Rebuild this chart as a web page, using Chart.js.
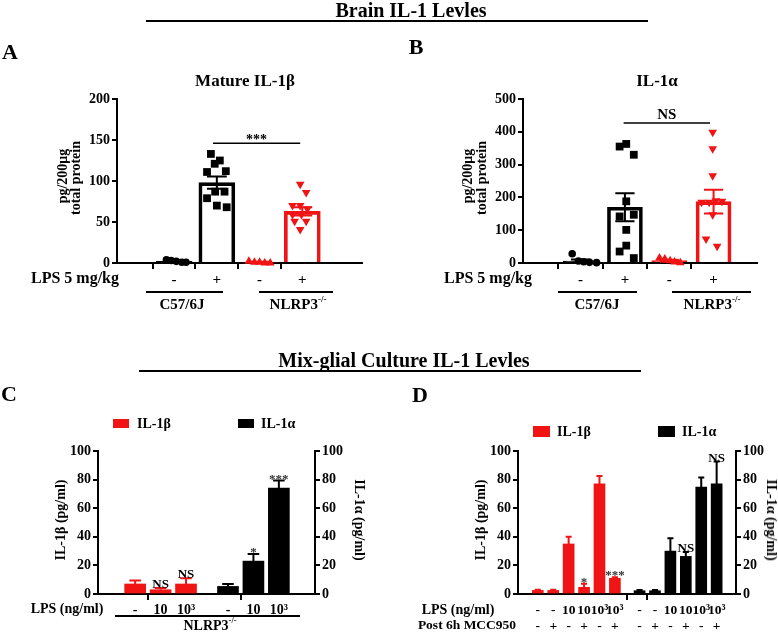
<!DOCTYPE html>
<html>
<head>
<meta charset="utf-8">
<script src="https://cdn.jsdelivr.net/npm/chart.js@4.4.1/dist/chart.umd.min.js"></script>
<style>
  body { margin: 0; background: #fff; width: 778px; height: 633px; position: relative; overflow: hidden;
         font-family: "Liberation Serif", "Times New Roman", serif; font-weight: bold; color: #000; }
  canvas { position: absolute; left: 0; top: 0; }
  .t { position: absolute; white-space: nowrap; line-height: 1; transform: translate(-50%, -50%); }
  .l { position: absolute; white-space: nowrap; line-height: 1; transform: translateY(-50%); }
  .r { position: absolute; white-space: nowrap; line-height: 1; transform: translate(-50%, -50%) rotate(-90deg); }
  .r2 { position: absolute; white-space: nowrap; line-height: 1; transform: translate(-50%, -50%) rotate(90deg); }
  .hl { position: absolute; background: #000; }
  .sq { position: absolute; }
  sup { font-size: 0.6em; vertical-align: top; position: relative; top: -0.25em; }
</style>
</head>
<body>
<canvas id="cA" width="778" height="633"></canvas>
<canvas id="cB" width="778" height="633"></canvas>
<canvas id="cC" width="778" height="633"></canvas>
<canvas id="cD" width="778" height="633"></canvas>

<!-- top section -->
<div class="t" style="left:411px;top:10px;font-size:20px">Brain IL-1 Levles</div>
<div class="hl" style="left:146px;top:20px;width:502px;height:2px"></div>
<div class="t" style="left:10px;top:52px;font-size:22px">A</div>
<div class="t" style="left:416px;top:47px;font-size:22px">B</div>
<div class="t" style="left:245px;top:80px;font-size:17px">Mature IL-1β</div>
<div class="t" style="left:657px;top:80px;font-size:17px">IL-1α</div>
<div class="r" style="left:63px;top:176px;font-size:14px">pg/200μg</div>
<div class="r" style="left:76px;top:178px;font-size:14px">total protein</div>
<div class="r" style="left:468px;top:176px;font-size:14px">pg/200μg</div>
<div class="r" style="left:482px;top:178px;font-size:14px">total protein</div>
<div class="t" style="left:75px;top:278px;font-size:16px">LPS 5 mg/kg</div>
<div class="t" style="left:488px;top:278px;font-size:16px">LPS 5 mg/kg</div>
<div class="hl" style="left:146px;top:291px;width:77px;height:1.5px"></div>
<div class="hl" style="left:259px;top:291px;width:74px;height:1.5px"></div>
<div class="hl" style="left:558px;top:291px;width:79px;height:1.5px"></div>
<div class="hl" style="left:672px;top:291px;width:79px;height:1.5px"></div>
<div class="t" style="left:182px;top:304px;font-size:15px">C57/6J</div>
<div class="t" style="left:298px;top:304px;font-size:15px">NLRP3<sup>-/-</sup></div>
<div class="t" style="left:597px;top:304px;font-size:15px">C57/6J</div>
<div class="t" style="left:712px;top:304px;font-size:15px">NLRP3<sup>-/-</sup></div>

<!-- bottom section -->
<div class="t" style="left:404px;top:360px;font-size:20px">Mix-glial Culture IL-1 Levles</div>
<div class="hl" style="left:139px;top:370px;width:502px;height:2px"></div>
<div class="t" style="left:9px;top:394px;font-size:22px">C</div>
<div class="t" style="left:420px;top:395px;font-size:22px">D</div>

<div class="sq" style="left:113px;top:419px;width:16px;height:9px;background:#f01414"></div>
<div class="l" style="left:137px;top:424px;font-size:14px">IL-1β</div>
<div class="sq" style="left:238px;top:419px;width:16px;height:9px;background:#000"></div>
<div class="l" style="left:261px;top:424px;font-size:14px">IL-1α</div>
<div class="sq" style="left:533px;top:426px;width:17px;height:11px;background:#f01414"></div>
<div class="l" style="left:557px;top:432px;font-size:14px">IL-1β</div>
<div class="sq" style="left:658px;top:426px;width:17px;height:11px;background:#000"></div>
<div class="l" style="left:682px;top:432px;font-size:14px">IL-1α</div>

<div class="r" style="left:61px;top:520px;font-size:14px">IL-1β (pg/ml)</div>
<div class="r2" style="left:359px;top:520px;font-size:14px">IL-1α (pg/ml)</div>
<div class="r" style="left:481px;top:520px;font-size:14px">IL-1β (pg/ml)</div>
<div class="r2" style="left:771px;top:520px;font-size:14px">IL-1α (pg/ml)</div>
<div class="t" style="left:67px;top:609px;font-size:14px">LPS (ng/ml)</div>
<div class="hl" style="left:115px;top:615px;width:185px;height:1.5px"></div>
<div class="t" style="left:210px;top:626px;font-size:14px">NLRP3<sup>-/-</sup></div>
<div class="t" style="left:458px;top:610px;font-size:14px">LPS (ng/ml)</div>
<div class="t" style="left:467px;top:625px;font-size:13.5px">Post 6h MCC950</div>

<script>
// ---- data ----
const lpsAB = ['-', '+', '-', '+'];

// A: mature IL-1β, pg/200µg total protein (C57 -, C57 +, NLRP3 -, NLRP3 +)
const aMean = [2, 98, 1, 63];
const aSem = [0.6, 7.5, 0.4, 5];
const aPts = [
  [4, 3, 2, 1, 1],
  [133, 125, 121, 111, 112, 79, 87, 87, 70, 68],
  [2, 1, 1, 0, 0],
  [96, 86, 70, 70, 66, 59, 59, 51, 51, 41]
];

// B: IL-1α, pg/200µg total protein
const bMean = [6, 170, 7, 187];
const bSem = [5, 43, 3, 36];
const bPts = [
  [28, 6, 4, 2, 1],
  [355, 363, 330, 188, 142, 147, 101, 53, 35, 15],
  [15, 12, 7, 3, 1],
  [399, 348, 266, 185, 185, 190, 188, 147, 73, 51]
];

// C: mixed glial culture, NLRP3-/-
const cLps = ['-', '10', '10³', '-', '10', '10³'];
const cBeta = [7, 3, 7];
const cBetaErr = [2.5, 1.2, 4];
const cBetaSig = ['', 'NS', 'NS'];
const cAlpha = [5.3, 23, 74];
const cAlphaErr = [1.7, 5, 5.3];
const cAlphaSig = ['', '*', '***'];

// D: post 6h MCC950
const dLps = ['-', '-', '10', '10', '10³', '10³'];
const dMcc = ['-', '+', '-', '+', '-', '+'];
const dBeta = [2.5, 2.5, 35, 4.7, 77, 11];
const dBetaErr = [0.5, 0.5, 5, 2.5, 5.5, 0.8];
const dBetaSig = ['', '', '', '*', '', '***'];
const dAlpha = [2.3, 2.3, 30, 26.3, 74.7, 77];
const dAlphaErr = [0.5, 0.5, 9, 3, 6.7, 15.6];
const dAlphaSig = ['', '', '', 'NS', '', 'NS'];

// ---- drawing ----
const F = '"Liberation Serif", "Times New Roman", serif';
const RED = '#f01414';

// horizontal spread of the dots inside each group (category units)
const jitA = [
  [-0.18, -0.07, 0.05, 0.18, 0.28],
  [-0.14, 0.07, -0.05, -0.23, 0.21, -0.23, -0.04, 0.18, 0, 0.23],
  [-0.25, -0.12, 0, 0.12, 0.25],
  [-0.05, 0.09, -0.23, -0.05, 0.12, -0.23, -0.02, -0.18, 0.09, -0.05]
];
const jitB = [
  [-0.19, -0.05, 0.07, 0.2, 0.36],
  [-0.12, 0.03, 0.2, 0.03, -0.12, 0.2, 0.03, 0.03, -0.12, 0.2],
  [-0.22, -0.1, 0.02, 0.12, 0.25],
  [-0.02, -0.02, -0.02, -0.27, -0.1, 0.05, 0.19, -0.02, -0.17, 0.08]
];

function fix(size, horiz) {
  return s => {
    if (horiz) s.height = size; else s.width = size;
    s.paddingTop = s.paddingBottom = s.paddingLeft = s.paddingRight = 0;
  };
}

function yAxis(max, step, pos, w) {
  return {
    type: 'linear', position: pos, min: 0, max: max,
    afterFit: fix(w, false),
    border: { display: true, color: '#000', width: 2 },
    grid: { drawOnChartArea: false, drawTicks: true, tickLength: 5, lineWidth: 2, color: '#000' },
    ticks: { stepSize: step, padding: 2, color: '#000', font: { family: F, size: 14, weight: 'bold' } }
  };
}

function xAxis(min, max, pos, labels, marks, size, pad) {
  const col = c => (c.tick && marks.includes(c.tick.value)) ? '#000' : 'rgba(0,0,0,0)';
  return {
    type: 'linear', min: min, max: max,
    afterFit: fix(40, true),
    afterBuildTicks: s => { s.ticks = pos.map(v => ({ value: v })); },
    border: { display: true, color: '#000', width: 2 },
    grid: { drawOnChartArea: false, drawTicks: true, tickLength: 6, lineWidth: 2, color: col, tickColor: col },
    ticks: { autoSkip: false, maxRotation: 0, padding: pad, color: '#000',
             font: { family: F, size: size, weight: 'bold' }, lineHeight: 1.15,
             callback: (v, i) => labels[i] }
  };
}

// error whiskers, significance text and the comparison line
const marks = {
  id: 'marks',
  afterDatasetsDraw(chart, args, opts) {
    const ctx = chart.ctx;
    ctx.save();
    chart.data.datasets.forEach((ds, i) => {
      if (!ds.err) return;
      const meta = chart.getDatasetMeta(i);
      const ys = chart.scales[meta.yAxisID];
      meta.data.forEach((bar, j) => {
        const v = ds.data[j].y, e = ds.err[j];
        const top = ys.getPixelForValue(v + e);
        const bot = ys.getPixelForValue(ds.both ? v - e : v);
        const hw = ds.capW / 2;
        ctx.strokeStyle = Array.isArray(ds.errColor) ? ds.errColor[j] : ds.errColor;
        ctx.lineWidth = 2;
        ctx.beginPath();
        ctx.moveTo(bar.x, top); ctx.lineTo(bar.x, bot);
        ctx.moveTo(bar.x - hw, top); ctx.lineTo(bar.x + hw, top);
        if (ds.both) { ctx.moveTo(bar.x - hw, bot); ctx.lineTo(bar.x + hw, bot); }
        ctx.stroke();
        const s = ds.sig && ds.sig[j];
        if (s) {
          ctx.fillStyle = s === 'NS' ? '#000' : '#333';
          ctx.font = 'bold 13px ' + F;
          ctx.textAlign = 'center';
          ctx.textBaseline = 'alphabetic';
          ctx.fillText(s, bar.x, top + (s === 'NS' ? 0 : 2));
        }
      });
    });
    if (opts.line) {
      const L = opts.line;
      const xs = chart.scales.x, ys = chart.scales.y;
      const py = ys.getPixelForValue(L.y);
      const x1 = xs.getPixelForValue(L.x1), x2 = xs.getPixelForValue(L.x2);
      ctx.strokeStyle = '#000';
      ctx.lineWidth = 1.5;
      ctx.beginPath(); ctx.moveTo(x1, py); ctx.lineTo(x2, py); ctx.stroke();
      ctx.fillStyle = '#000';
      ctx.font = 'bold ' + L.size + 'px ' + F;
      ctx.textAlign = 'center';
      ctx.textBaseline = 'alphabetic';
      ctx.fillText(L.text, (x1 + x2) / 2, py + L.dy);
    }
    ctx.restore();
  }
};

function pad(L, R, T, B, yW, y2W) {
  return { left: L - yW, right: 778 - R - y2W, top: T, bottom: 633 - B - 40 };
}

// A and B: bars with dot plots
function dotPanel(id, mean, sem, pts, jit, box, xr, max, step, line, barW) {
  const colors = ['#000', '#000', RED, RED];
  const styles = ['circle', 'rect', 'triangle', 'triangle'];
  const radius = [3.8, 5.5, 5, 5];
  const rot = [0, 0, 0, 180];
  const scat = pts.map((g, k) => ({
    type: 'scatter',
    data: g.map((v, n) => ({ x: k + jit[k][n], y: v })),
    pointStyle: styles[k], pointRadius: radius[k], pointRotation: rot[k],
    backgroundColor: colors[k], borderColor: colors[k], borderWidth: 0,
    clip: false, order: 0
  }));
  new Chart(document.getElementById(id), {
    type: 'bar',
    data: {
      datasets: [{
        type: 'bar',
        data: mean.map((v, k) => ({ x: k, y: v })),
        backgroundColor: 'rgba(255,255,255,0)', borderColor: colors, borderWidth: 3,
        barThickness: barW, grouped: false, order: 1,
        err: sem, both: true, errColor: colors, capW: barW * 0.55
      }, ...scat]
    },
    options: {
      responsive: false, animation: false, events: [],
      layout: { padding: pad(box[0], box[1], box[2], box[3], 50, 0) },
      plugins: { legend: { display: false }, tooltip: { enabled: false }, marks: { line: line } },
      scales: {
        x: xAxis(xr[0], xr[1], [0, 1, 2, 3], lpsAB, [0, 1, 2, 3], 15, 2),
        y: yAxis(max, step, 'left', 50)
      }
    },
    plugins: [marks]
  });
}

dotPanel('cA', aMean, aSem, aPts, jitA, [117, 362, 99, 263], [-0.62, 3.68], 200, 50,
  { x1: 0.91, x2: 2.95, y: 146, text: '***', size: 14, dy: 1 }, 36);
dotPanel('cB', bMean, bSem, bPts, jitB, [523, 757, 99, 263], [-0.64, 3.32], 500, 100,
  { x1: 0.97, x2: 2.92, y: 427, text: 'NS', size: 15, dy: -4 }, 35);

// C and D: twin-axis bar charts
function twinPanel(id, box, xr, posB, posA, beta, betaErr, betaSig, alpha, alphaErr, alphaSig,
                   tickPos, tickLabels, tickMarks, size, tpad, barW) {
  new Chart(document.getElementById(id), {
    type: 'bar',
    data: {
      datasets: [{
        data: beta.map((v, k) => ({ x: posB[k], y: v })), yAxisID: 'y',
        backgroundColor: RED, barThickness: barW, grouped: false,
        err: betaErr, sig: betaSig, errColor: RED, capW: barW * 0.55
      }, {
        data: alpha.map((v, k) => ({ x: posA[k], y: v })), yAxisID: 'y2',
        backgroundColor: '#000', barThickness: barW, grouped: false,
        err: alphaErr, sig: alphaSig, errColor: '#000', capW: barW * 0.55
      }]
    },
    options: {
      responsive: false, animation: false, events: [],
      layout: { padding: pad(box[0], box[1], box[2], box[3], 40, 40) },
      plugins: { legend: { display: false }, tooltip: { enabled: false }, marks: {} },
      scales: {
        x: xAxis(xr[0], xr[1], tickPos, tickLabels, tickMarks, size, tpad),
        y: yAxis(100, 20, 'left', 40),
        y2: yAxis(100, 20, 'right', 40)
      }
    },
    plugins: [marks]
  });
}

const cPosB = [0, 1, 2], cPosA = [3.65, 4.65, 5.65];
twinPanel('cC', [98, 315, 451, 594], [-0.75, 6.36], cPosB, cPosA,
  cBeta, cBetaErr, cBetaSig, cAlpha, cAlphaErr, cAlphaSig,
  cPosB.concat(cPosA), cLps, [1, 4.65], 14, 1.5, 21);

const dPosB = [0, 1, 2, 3, 4, 5], dPosA = [6.6, 7.6, 8.6, 9.6, 10.6, 11.6];
const dLabels = dLps.map((l, k) => [l, dMcc[k]]);
twinPanel('cD', [518, 736, 451, 594], [-0.78, 12.35], dPosB, dPosA,
  dBeta, dBetaErr, dBetaSig, dAlpha, dAlphaErr, dAlphaSig,
  dPosB.concat(dPosA, [2.5, 9.1]), dLabels.concat(dLabels, ['', '']), [2.5, 9.1], 13.5, 2, 11);
</script>
</body>
</html>
